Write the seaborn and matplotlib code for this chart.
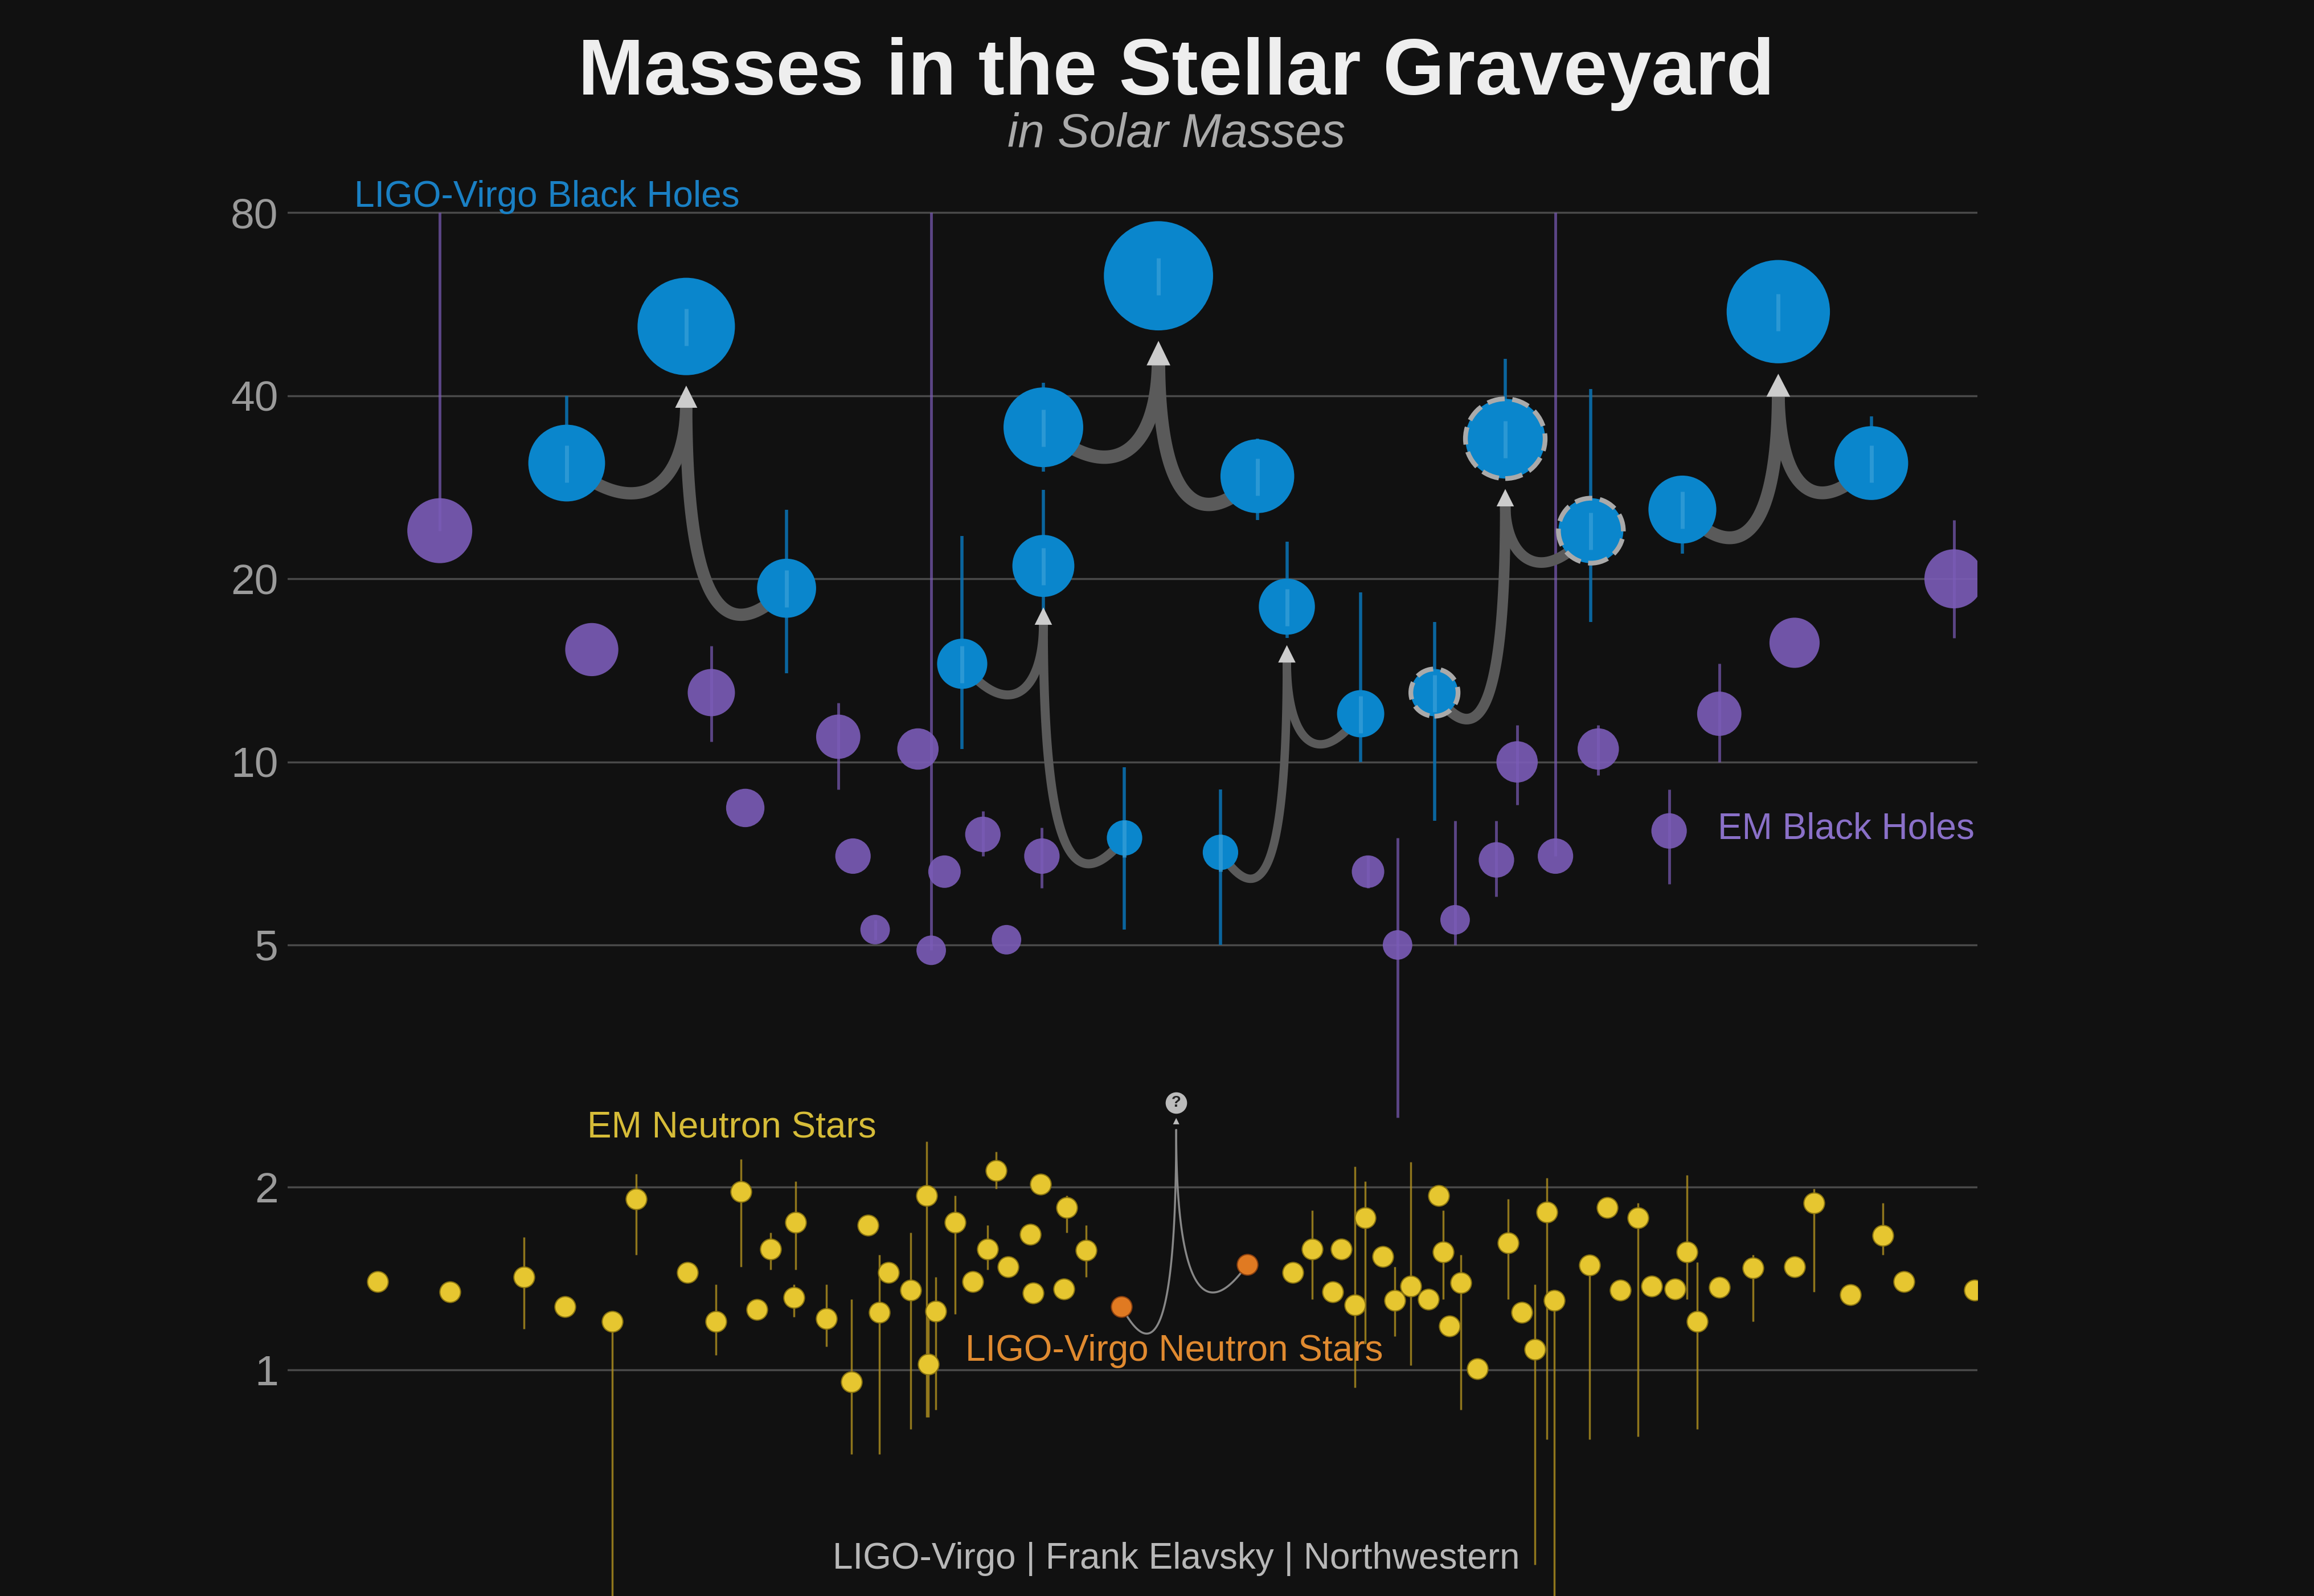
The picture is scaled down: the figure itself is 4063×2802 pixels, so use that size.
import numpy as np
import pandas as pd
import matplotlib
matplotlib.use("Agg")
import matplotlib.pyplot as plt
import seaborn as sns

# ---------------- data ----------------
bh_x = [384, 533, 465, 707, 852, 785, 652, 762, 707, 827, 922, 872, 972, 1078, 1020, 1140, 1268, 1205]
bh_m = [31, 19.3, 52, 35.5, 29.5, 63, 14.5, 7.5, 21, 7.1, 12, 18, 13, 24, 34, 26, 31, 55]
bh_r = [26, 20, 33, 27, 25, 37, 17, 12, 21, 12, 16, 19, 16, 22, 27, 23, 25, 35]
bh_lo = [27, 14, 48, 30, 25, 58, 10.5, 5.3, 17, 5, 10, 16, 8, 17, 30, 22, 27, 51]
bh_hi = [40, 26, 57, 42, 34, 68, 23.5, 9.8, 28, 9, 19, 23, 17, 41, 46, 28, 37, 58]
bh_dashed = [0, 0, 0, 0, 0, 0, 0, 0, 0, 0, 0, 0, 1, 1, 1, 0, 0, 0]
mergers = [(0, 1, 2), (3, 4, 5), (6, 7, 8), (9, 10, 11), (12, 13, 14), (15, 16, 17)]

em_x = [298, 401, 482, 505, 568, 578, 593, 622, 631, 640, 666, 682, 706, 927, 947, 986, 1014, 1028, 1054, 1083, 1131, 1165, 1216, 1324]
em_m = [24, 15.3, 13, 8.4, 11, 7, 5.3, 10.5, 4.9, 6.6, 7.6, 5.1, 7, 6.6, 5, 5.5, 6.9, 10, 7, 10.5, 7.7, 12, 15.7, 20]
em_r = [22, 18, 16, 13, 15, 12, 10, 14, 10, 11, 12, 10, 12, 11, 10, 10, 12, 14, 12, 14, 12, 15, 17, 20]
em_lo = [24, 15.3, 10.8, 8.4, 9, 7, 5.1, 10.5, 4.9, 6.6, 7, 5.1, 6.2, 6.2, 2.6, 5, 6, 8.5, 7, 9.5, 6.3, 10, 15.7, 16]
em_hi = [80, 15.3, 15.5, 8.4, 12.5, 7, 5.5, 10.5, 80, 6.6, 8.3, 5.1, 7.8, 7, 7.5, 8, 8, 11.5, 80, 11.5, 9, 14.5, 15.7, 25]

ns_x = [256, 305, 355, 383, 415, 431, 466, 485, 502, 513, 522, 539, 538, 560, 577, 588, 596, 602, 617, 628, 629, 634, 647, 659, 669, 675, 683, 698, 700, 705, 721, 723, 736,
        876, 889, 903, 909, 918, 925, 937, 945, 956, 968, 975, 978, 982, 990, 1001, 1022, 1031, 1040, 1048, 1053, 1077, 1089, 1098, 1110, 1119, 1135, 1143, 1150, 1165, 1188, 1216, 1229, 1254, 1276, 1290, 1338]
ns_y = [868, 875, 865, 885, 895, 812, 862, 895, 807, 887, 846, 828, 879, 893, 936, 830, 889, 862, 874, 810, 924, 888, 828, 868, 846, 793, 858, 836, 876, 802, 873, 818, 847,
        862, 846, 875, 846, 884, 825, 851, 881, 871, 880, 810, 848, 898, 869, 927, 842, 889, 914, 821, 881, 857, 818, 874, 825, 871, 873, 848, 895, 872, 859, 858, 815, 877, 837, 868, 874]
ns_elo = [868, 875, 900, 885, 1081, 850, 862, 918, 858, 887, 860, 860, 892, 912, 985, 830, 985, 862, 968, 960, 960, 955, 890, 868, 860, 805, 858, 836, 876, 802, 873, 835, 865,
          862, 880, 875, 846, 940, 910, 851, 905, 925, 880, 810, 880, 898, 955, 927, 880, 889, 1060, 975, 1081, 975, 818, 874, 973, 871, 873, 880, 968, 872, 895, 858, 875, 877, 850, 868, 874]
ns_ehi = [868, 875, 838, 885, 895, 795, 862, 870, 785, 887, 835, 800, 870, 870, 880, 830, 850, 862, 835, 773, 885, 865, 810, 868, 830, 780, 858, 836, 876, 802, 873, 810, 830,
          862, 820, 875, 846, 790, 800, 851, 858, 787, 880, 810, 820, 898, 850, 927, 812, 889, 870, 798, 875, 850, 818, 874, 815, 871, 873, 796, 855, 872, 850, 858, 805, 877, 815, 868, 874]

lvns_x = [760, 845]
lvns_m = [1.27, 1.49]
lvns_final = (797, 2.75)

# ---------------- helpers ----------------
def y2m(y):
    return 10 ** ((928 - np.asarray(y, float)) / 412.0)

ns_m = y2m(ns_y); ns_lo = y2m(ns_elo); ns_hi = y2m(ns_ehi)

W, H, DPI = 4063, 2802, 100
SC = W / 1568.0
def s_from_r(r):
    rpt = np.asarray(r, float) * SC * 72 / DPI
    return (2 * rpt) ** 2

BG = "#111111"
BLUE = "#0a86cc"; PURPLE = "#7b5cb8"; YELLOW = "#e6c630"; ORANGE = "#e07a22"
sns.set_style("dark", {"axes.facecolor": BG, "figure.facecolor": BG})
plt.rcParams["font.family"] = "Liberation Sans"

fig = plt.figure(figsize=(W / DPI, H / DPI), dpi=DPI, facecolor=BG)
ax = fig.add_axes([195 / 1568, 0, (1340 - 195) / 1568, 1])
ax.set_facecolor(BG)
ax.set_yscale("log")
ax.set_xlim(195, 1340)
ax.set_ylim(0.425, 179)
for s in ax.spines.values():
    s.set_visible(False)
ticks = [1, 2, 5, 10, 20, 40, 80]

ax.vlines(em_x, em_lo, em_hi, color=PURPLE, lw=3.5, alpha=0.7, zorder=1)
ax.vlines(bh_x, bh_lo, bh_hi, color="#0a6fae", lw=4, alpha=0.9, zorder=1)
ax.vlines(ns_x, ns_lo, ns_hi, color="#b09020", lw=2.5, alpha=0.8, zorder=1)

def merge_curve(x0, m0, xf, mf_tip, lw, color="#5a5a5a"):
    l0, lt = np.log10(m0), np.log10(mf_tip)
    t = np.linspace(0, 1, 100)
    P = np.array([[x0, l0], [x0 + (xf - x0) * 0.6, l0 - 0.1], [xf, l0 - 0.04], [xf, lt]])
    c = ((1 - t) ** 3)[:, None] * P[0] + (3 * (1 - t) ** 2 * t)[:, None] * P[1] + \
        (3 * (1 - t) * t ** 2)[:, None] * P[2] + (t ** 3)[:, None] * P[3]
    ax.plot(c[:, 0], 10 ** c[:, 1], color=color, lw=lw, zorder=2, solid_capstyle="round")

for a, b, f in mergers:
    tip = bh_m[f] * 10 ** (-(bh_r[f] + 6) / 412.0)
    lw = 4 + bh_r[f] * 0.35
    hl = max(bh_r[f] / 12, 2.2); hw = max(bh_r[f] / 24, 1.1)
    merge_curve(bh_x[a], bh_m[a], bh_x[f], tip * 0.93, lw)
    merge_curve(bh_x[b], bh_m[b], bh_x[f], tip * 0.93, lw)
    ax.annotate("", xy=(bh_x[f], tip), xytext=(bh_x[f], tip * 0.9),
                arrowprops=dict(arrowstyle="-|>,head_length=%.1f,head_width=%.1f" % (hl, hw),
                                color="#cccccc", lw=0), zorder=3)

tip = lvns_final[1] * 0.95
for xx, mm in zip(lvns_x, lvns_m):
    merge_curve(xx, mm, lvns_final[0], tip * 0.95, 2.5, "#888888")
ax.annotate("", xy=(lvns_final[0], tip), xytext=(lvns_final[0], tip * 0.93),
            arrowprops=dict(arrowstyle="-|>,head_length=0.8,head_width=0.4", color="#bbbbbb", lw=0), zorder=3)
ax.scatter([lvns_final[0]], [lvns_final[1]], s=s_from_r(7), color="#bbbbbb", zorder=4)
ax.text(lvns_final[0], lvns_final[1], "?", ha="center", va="center", fontsize=20, color="#222222",
        fontweight="bold", zorder=5)

em_df = pd.DataFrame({"x": em_x, "m": em_m, "s": s_from_r(em_r)})
sns.scatterplot(data=em_df, x="x", y="m", s=em_df["s"], color=PURPLE, alpha=0.9, linewidth=0, ax=ax, zorder=3, legend=False)
bh_df = pd.DataFrame({"x": bh_x, "m": bh_m, "s": s_from_r(bh_r), "d": bh_dashed})
solid = bh_df[bh_df.d == 0]; dash = bh_df[bh_df.d == 1]
sns.scatterplot(data=solid, x="x", y="m", s=solid["s"], color=BLUE, linewidth=0, ax=ax, zorder=4, legend=False)
sns.scatterplot(data=dash, x="x", y="m", s=dash["s"], color=BLUE, edgecolor="#aaaaaa", linewidth=6,
                linestyle="--", ax=ax, zorder=4, legend=False)
ax.vlines(bh_x, np.array(bh_m) * 0.93, np.array(bh_m) * 1.07, color="#3aa0d8", lw=5, zorder=5, alpha=0.7)
ns_df = pd.DataFrame({"x": ns_x, "m": ns_m})
sns.scatterplot(data=ns_df, x="x", y="m", s=float(s_from_r([7])[0]),
                color=YELLOW, edgecolor="#8a7410", linewidth=1.5, ax=ax, zorder=3, legend=False)
ax.scatter(lvns_x, lvns_m, s=s_from_r([7])[0], color=ORANGE, edgecolor="#8a4010", linewidth=1.5, zorder=3)

ax.set_xlabel(""); ax.set_ylabel("")
ax.set_yticks(ticks)
ax.set_yticklabels([str(t) for t in ticks])
ax.yaxis.set_minor_locator(matplotlib.ticker.NullLocator())
ax.tick_params(axis="y", colors="#9a9a9a", labelsize=54, length=0, pad=12)
ax.set_xticks([])
ax.grid(axis="y", color="#4a4a4a", lw=2.5, zorder=0)
ax.grid(axis="x", visible=False)
ax.set_xlim(195, 1340)
ax.set_ylim(0.425, 179)

ax.text(240, 84.9, "LIGO-Virgo Black Holes", color="#1a80c4", fontsize=46, va="center", ha="left")
ax.text(1338, 7.75, "EM Black Holes", color="#8a70c8", fontsize=46, va="center", ha="right")
ax.text(398, 2.5, "EM Neutron Stars", color="#d6bc38", fontsize=46, va="center", ha="left")
ax.text(654, 1.075, "LIGO-Virgo Neutron Stars", color="#e08a30", fontsize=46, va="center", ha="left")
fig.text(797 / 1568, 1 - 1056 / 1081, "LIGO-Virgo | Frank Elavsky | Northwestern", color="#b8b8b8",
         fontsize=46, ha="center", va="center")
fig.text(797 / 1568, 1 - 50 / 1081, "Masses in the Stellar Graveyard", color="#eeeeee",
         fontsize=100, fontweight="bold", ha="center", va="center")
fig.text(797 / 1568, 1 - 91 / 1081, "in Solar Masses", color="#aaaaaa", fontsize=60,
         fontstyle="italic", ha="center", va="center")

fig.savefig("out.png", dpi=DPI, facecolor=BG)
